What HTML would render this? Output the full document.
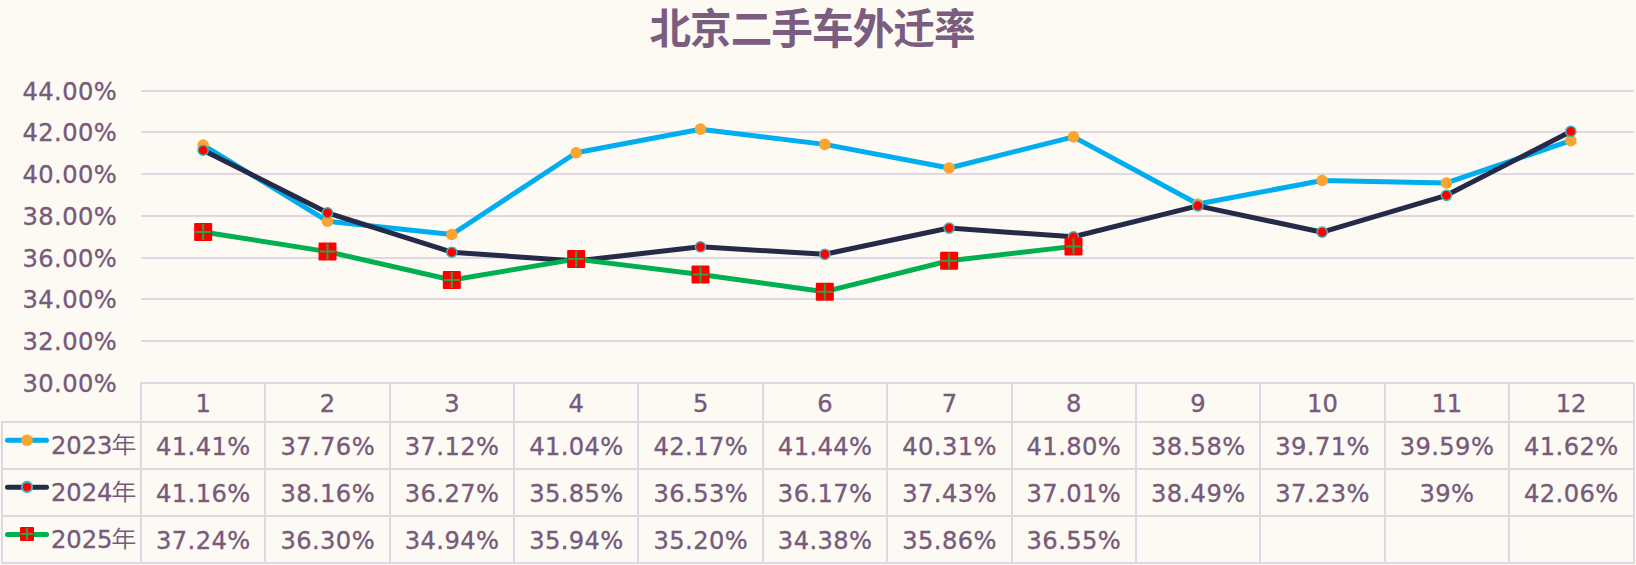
<!DOCTYPE html>
<html lang="zh-CN"><head><meta charset="utf-8"><title>北京二手车外迁率</title>
<style>
html,body{margin:0;padding:0;background:#fdfaf3;}
body{width:1636px;height:565px;overflow:hidden;}
svg{display:block;}
text{font-family:"DejaVu Sans","Liberation Sans","Noto Sans CJK SC",sans-serif;fill:#775a7c;stroke:#775a7c;stroke-width:0.35px;font-size:24.2px;letter-spacing:0.4px;}
.t{font-family:"Liberation Sans","Noto Sans CJK SC",sans-serif;font-weight:bold;font-size:41.6px;letter-spacing:-0.95px;fill:#7a5d7f;stroke:none;}
.cj{font-family:"Noto Sans CJK SC",sans-serif;letter-spacing:0;stroke:none;font-weight:350;}
.g{stroke:#e0d7e3;stroke-width:2;fill:none;}
</style></head><body>
<svg width="1636" height="565" viewBox="0 0 1636 565">
<rect width="1636" height="565" fill="#fdfaf3"/>
<text class="t" x="812" y="43.9" text-anchor="middle">北京二手车外迁率</text>

<line class="g" x1="141.0" y1="91" x2="1634.0" y2="91"/>
<text x="117.2" y="99.75" text-anchor="end">44.00%</text>
<line class="g" x1="141.0" y1="132" x2="1634.0" y2="132"/>
<text x="117.2" y="140.75" text-anchor="end">42.00%</text>
<line class="g" x1="141.0" y1="174" x2="1634.0" y2="174"/>
<text x="117.2" y="182.75" text-anchor="end">40.00%</text>
<line class="g" x1="141.0" y1="216" x2="1634.0" y2="216"/>
<text x="117.2" y="224.75" text-anchor="end">38.00%</text>
<line class="g" x1="141.0" y1="258" x2="1634.0" y2="258"/>
<text x="117.2" y="266.75" text-anchor="end">36.00%</text>
<line class="g" x1="141.0" y1="299" x2="1634.0" y2="299"/>
<text x="117.2" y="307.75" text-anchor="end">34.00%</text>
<line class="g" x1="141.0" y1="341" x2="1634.0" y2="341"/>
<text x="117.2" y="349.75" text-anchor="end">32.00%</text>
<line class="g" x1="140.0" y1="383" x2="1635.0" y2="383"/>
<text x="117.2" y="391.75" text-anchor="end">30.00%</text>
<line class="g" x1="1" y1="422" x2="1635.0" y2="422"/>
<line class="g" x1="1" y1="469" x2="1635.0" y2="469"/>
<line class="g" x1="1" y1="516" x2="1635.0" y2="516"/>
<line class="g" x1="1" y1="563" x2="1635.0" y2="563"/>
<line class="g" x1="2" y1="422" x2="2" y2="563"/>
<line class="g" x1="141" y1="383" x2="141" y2="563"/>
<line class="g" x1="265" y1="383" x2="265" y2="563"/>
<line class="g" x1="390" y1="383" x2="390" y2="563"/>
<line class="g" x1="514" y1="383" x2="514" y2="563"/>
<line class="g" x1="638" y1="383" x2="638" y2="563"/>
<line class="g" x1="763" y1="383" x2="763" y2="563"/>
<line class="g" x1="887" y1="383" x2="887" y2="563"/>
<line class="g" x1="1012" y1="383" x2="1012" y2="563"/>
<line class="g" x1="1136" y1="383" x2="1136" y2="563"/>
<line class="g" x1="1260" y1="383" x2="1260" y2="563"/>
<line class="g" x1="1385" y1="383" x2="1385" y2="563"/>
<line class="g" x1="1509" y1="383" x2="1509" y2="563"/>
<line class="g" x1="1634" y1="383" x2="1634" y2="563"/>
<text x="203.18" y="411.8" text-anchor="middle" style="letter-spacing:0">1</text>
<text x="327.54" y="411.8" text-anchor="middle" style="letter-spacing:0">2</text>
<text x="451.90" y="411.8" text-anchor="middle" style="letter-spacing:0">3</text>
<text x="576.26" y="411.8" text-anchor="middle" style="letter-spacing:0">4</text>
<text x="700.62" y="411.8" text-anchor="middle" style="letter-spacing:0">5</text>
<text x="824.98" y="411.8" text-anchor="middle" style="letter-spacing:0">6</text>
<text x="949.34" y="411.8" text-anchor="middle" style="letter-spacing:0">7</text>
<text x="1073.70" y="411.8" text-anchor="middle" style="letter-spacing:0">8</text>
<text x="1198.06" y="411.8" text-anchor="middle" style="letter-spacing:0">9</text>
<text x="1322.42" y="411.8" text-anchor="middle" style="letter-spacing:0">10</text>
<text x="1446.78" y="411.8" text-anchor="middle" style="letter-spacing:0">11</text>
<text x="1571.14" y="411.8" text-anchor="middle" style="letter-spacing:0">12</text>
<text x="203.38" y="454.8" text-anchor="middle">41.41%</text>
<text x="327.74" y="454.8" text-anchor="middle">37.76%</text>
<text x="452.10" y="454.8" text-anchor="middle">37.12%</text>
<text x="576.46" y="454.8" text-anchor="middle">41.04%</text>
<text x="700.82" y="454.8" text-anchor="middle">42.17%</text>
<text x="825.18" y="454.8" text-anchor="middle">41.44%</text>
<text x="949.54" y="454.8" text-anchor="middle">40.31%</text>
<text x="1073.90" y="454.8" text-anchor="middle">41.80%</text>
<text x="1198.26" y="454.8" text-anchor="middle">38.58%</text>
<text x="1322.62" y="454.8" text-anchor="middle">39.71%</text>
<text x="1446.98" y="454.8" text-anchor="middle">39.59%</text>
<text x="1571.34" y="454.8" text-anchor="middle">41.62%</text>
<text x="203.38" y="501.8" text-anchor="middle">41.16%</text>
<text x="327.74" y="501.8" text-anchor="middle">38.16%</text>
<text x="452.10" y="501.8" text-anchor="middle">36.27%</text>
<text x="576.46" y="501.8" text-anchor="middle">35.85%</text>
<text x="700.82" y="501.8" text-anchor="middle">36.53%</text>
<text x="825.18" y="501.8" text-anchor="middle">36.17%</text>
<text x="949.54" y="501.8" text-anchor="middle">37.43%</text>
<text x="1073.90" y="501.8" text-anchor="middle">37.01%</text>
<text x="1198.26" y="501.8" text-anchor="middle">38.49%</text>
<text x="1322.62" y="501.8" text-anchor="middle">37.23%</text>
<text x="1446.98" y="501.8" text-anchor="middle">39%</text>
<text x="1571.34" y="501.8" text-anchor="middle">42.06%</text>
<text x="203.38" y="548.8" text-anchor="middle">37.24%</text>
<text x="327.74" y="548.8" text-anchor="middle">36.30%</text>
<text x="452.10" y="548.8" text-anchor="middle">34.94%</text>
<text x="576.46" y="548.8" text-anchor="middle">35.94%</text>
<text x="700.82" y="548.8" text-anchor="middle">35.20%</text>
<text x="825.18" y="548.8" text-anchor="middle">34.38%</text>
<text x="949.54" y="548.8" text-anchor="middle">35.86%</text>
<text x="1073.90" y="548.8" text-anchor="middle">36.55%</text>
<text x="50.9" y="453.6" style="letter-spacing:0">2023</text>
<text class="cj" transform="translate(111.2 452.90000000000003) scale(1.04 0.93)" font-size="23">年</text>
<text x="50.9" y="500.6" style="letter-spacing:0">2024</text>
<text class="cj" transform="translate(111.2 499.90000000000003) scale(1.04 0.93)" font-size="23">年</text>
<text x="50.9" y="547.5999999999999" style="letter-spacing:0">2025</text>
<text class="cj" transform="translate(111.2 546.9) scale(1.04 0.93)" font-size="23">年</text>
<polyline points="203.16,145.02 327.50,221.15 451.82,234.50 576.15,152.74 700.49,129.17 824.81,144.39 949.14,167.96 1073.47,136.89 1197.81,204.05 1322.13,180.48 1446.46,182.98 1570.80,140.64" fill="none" stroke="#00adee" stroke-width="5" stroke-linejoin="round" stroke-linecap="round"/>
<circle cx="203.16" cy="145.02" r="5.8" fill="#fba42f"/>
<circle cx="327.50" cy="221.15" r="5.8" fill="#fba42f"/>
<circle cx="451.82" cy="234.50" r="5.8" fill="#fba42f"/>
<circle cx="576.15" cy="152.74" r="5.8" fill="#fba42f"/>
<circle cx="700.49" cy="129.17" r="5.8" fill="#fba42f"/>
<circle cx="824.81" cy="144.39" r="5.8" fill="#fba42f"/>
<circle cx="949.14" cy="167.96" r="5.8" fill="#fba42f"/>
<circle cx="1073.47" cy="136.89" r="5.8" fill="#fba42f"/>
<circle cx="1197.81" cy="204.05" r="5.8" fill="#fba42f"/>
<circle cx="1322.13" cy="180.48" r="5.8" fill="#fba42f"/>
<circle cx="1446.46" cy="182.98" r="5.8" fill="#fba42f"/>
<circle cx="1570.80" cy="140.64" r="5.8" fill="#fba42f"/>
<polyline points="203.16,150.23 327.50,212.81 451.82,252.23 576.15,260.99 700.49,246.80 824.81,254.31 949.14,228.03 1073.47,236.79 1197.81,205.92 1322.13,232.20 1446.46,195.29 1570.80,131.46" fill="none" stroke="#252a48" stroke-width="5" stroke-linejoin="round" stroke-linecap="round"/>
<circle cx="203.16" cy="150.23" r="5.1" fill="#fe0000" stroke="#45afb8" stroke-width="1.5"/>
<circle cx="327.50" cy="212.81" r="5.1" fill="#fe0000" stroke="#45afb8" stroke-width="1.5"/>
<circle cx="451.82" cy="252.23" r="5.1" fill="#fe0000" stroke="#45afb8" stroke-width="1.5"/>
<circle cx="576.15" cy="260.99" r="5.1" fill="#fe0000" stroke="#45afb8" stroke-width="1.5"/>
<circle cx="700.49" cy="246.80" r="5.1" fill="#fe0000" stroke="#45afb8" stroke-width="1.5"/>
<circle cx="824.81" cy="254.31" r="5.1" fill="#fe0000" stroke="#45afb8" stroke-width="1.5"/>
<circle cx="949.14" cy="228.03" r="5.1" fill="#fe0000" stroke="#45afb8" stroke-width="1.5"/>
<circle cx="1073.47" cy="236.79" r="5.1" fill="#fe0000" stroke="#45afb8" stroke-width="1.5"/>
<circle cx="1197.81" cy="205.92" r="5.1" fill="#fe0000" stroke="#45afb8" stroke-width="1.5"/>
<circle cx="1322.13" cy="232.20" r="5.1" fill="#fe0000" stroke="#45afb8" stroke-width="1.5"/>
<circle cx="1446.46" cy="195.29" r="5.1" fill="#fe0000" stroke="#45afb8" stroke-width="1.5"/>
<circle cx="1570.80" cy="131.46" r="5.1" fill="#fe0000" stroke="#45afb8" stroke-width="1.5"/>
<polyline points="203.16,231.99 327.50,251.60 451.82,279.97 576.15,259.11 700.49,274.54 824.81,291.65 949.14,260.78 1073.47,246.39" fill="none" stroke="#00af50" stroke-width="5" stroke-linejoin="round" stroke-linecap="round"/>
<rect x="194.16" y="222.99" width="18" height="18" rx="1" fill="#fe0000"/><path d="M195.16 231.99H211.16M203.16 223.99V239.99" stroke="#2fa04a" stroke-width="2" fill="none"/>
<rect x="318.50" y="242.60" width="18" height="18" rx="1" fill="#fe0000"/><path d="M319.50 251.60H335.50M327.50 243.60V259.60" stroke="#2fa04a" stroke-width="2" fill="none"/>
<rect x="442.82" y="270.97" width="18" height="18" rx="1" fill="#fe0000"/><path d="M443.82 279.97H459.82M451.82 271.97V287.97" stroke="#2fa04a" stroke-width="2" fill="none"/>
<rect x="567.15" y="250.11" width="18" height="18" rx="1" fill="#fe0000"/><path d="M568.15 259.11H584.15M576.15 251.11V267.11" stroke="#2fa04a" stroke-width="2" fill="none"/>
<rect x="691.49" y="265.54" width="18" height="18" rx="1" fill="#fe0000"/><path d="M692.49 274.54H708.49M700.49 266.54V282.54" stroke="#2fa04a" stroke-width="2" fill="none"/>
<rect x="815.81" y="282.65" width="18" height="18" rx="1" fill="#fe0000"/><path d="M816.81 291.65H832.81M824.81 283.65V299.65" stroke="#2fa04a" stroke-width="2" fill="none"/>
<rect x="940.14" y="251.78" width="18" height="18" rx="1" fill="#fe0000"/><path d="M941.14 260.78H957.14M949.14 252.78V268.78" stroke="#2fa04a" stroke-width="2" fill="none"/>
<rect x="1064.47" y="237.39" width="18" height="18" rx="1" fill="#fe0000"/><path d="M1065.47 246.39H1081.47M1073.47 238.39V254.39" stroke="#2fa04a" stroke-width="2" fill="none"/>
<line x1="7.5" y1="440.3" x2="46.5" y2="440.3" stroke="#00adee" stroke-width="5" stroke-linecap="round"/>
<circle cx="27" cy="440.3" r="5.8" fill="#fba42f"/>
<line x1="7.5" y1="487.3" x2="46.5" y2="487.3" stroke="#252a48" stroke-width="5" stroke-linecap="round"/>
<circle cx="27" cy="487.0" r="5.1" fill="#fe0000" stroke="#45afb8" stroke-width="2.1"/>
<line x1="7.5" y1="534.4" x2="46.5" y2="534.4" stroke="#00af50" stroke-width="5" stroke-linecap="round"/>
<rect x="20.00" y="526.90" width="14" height="14" rx="1" fill="#fe0000"/><path d="M21.00 533.90H33.00M27.00 527.90V539.90" stroke="#2fa04a" stroke-width="2" fill="none"/>
</svg></body></html>
